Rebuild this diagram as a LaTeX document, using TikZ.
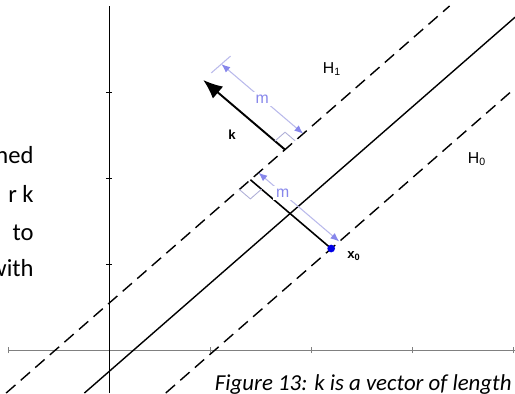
\documentclass[tikz,border=0pt]{standalone}
\usepackage{fontspec}
\setmainfont{Carlito}
\newfontfamily\labelfont{Liberation Sans}
\usetikzlibrary{arrows.meta,calc}

\definecolor{dimline}{RGB}{185,185,235}
\definecolor{dimhead}{RGB}{135,135,235}
\definecolor{anglemark}{RGB}{175,175,215}

\begin{document}
\begin{tikzpicture}[x=2.02cm,y=1.72cm,>=Latex,
  every node/.style={font=\labelfont\fontsize{9}{10}\selectfont},
  plane/.style={line width=0.8pt},
  halfplane/.style={plane,dash pattern=on 7pt off 4pt},
  dimension/.style={dimline,line width=0.6pt,
    {Latex[length=5pt,width=4pt,color=dimhead]}-{Latex[length=5pt,width=4pt,color=dimhead]}},
  rightangle/.style={anglemark,line width=0.5pt},
  bodytext/.style={font=\rmfamily\fontsize{14}{17}\selectfont,anchor=base east,inner sep=0pt},
  smalllabel/.style={font=\labelfont\bfseries\fontsize{7.5}{9}\selectfont}]
  \useasboundingbox (-1.079,-0.5) rectangle (4.020,4.070);

  % axes
  \draw[gray,line width=0.5pt] (-1,0) -- (4.02,0);
  \draw[line width=0.5pt] (0,-0.5) -- (0,4);
  \foreach \x in {-1,1,2,3,4} \draw[gray] (\x,-0.035) -- (\x,0.035);
  \foreach \y in {1,2,3} \draw (-0.03,\y) -- (0.03,\y);

  % planes
  \draw[halfplane] (-1.018,-0.5) -- (3.372,4.0);
  \draw[plane] (-0.243,-0.5) -- (4.02,3.869);
  \draw[halfplane] (0.562,-0.5) -- (4.02,3.044);

  \coordinate (x0) at (2.20,1.18);
  \coordinate (F) at (1.40,1.98);
  \coordinate (B) at (1.743,2.33);
  \coordinate (T) at (0.933,3.14);

  % normal vector k and distance
  \draw[line width=1.1pt,-{Latex[length=11pt,width=9pt]}] (B) -- (T);
  \draw[line width=0.9pt] (F) -- (x0);
  \fill[blue!90!black] (x0) circle (2.2pt);

  % right angles
  \draw[rightangle] ($(B)+(-0.1,0.1)$) -- ($(B)+(0,0.2025)$) -- ($(B)+(0.1,0.1025)$);
  \draw[rightangle] ($(F)+(-0.11,-0.113)$) -- ($(F)+(0,-0.223)$) -- ($(F)+(0.11,-0.11)$);

  % dimensions
  \draw[dimline,line width=0.6pt] ($(T)+(0.08,0.082)$) -- ($(T)+(0.27,0.277)$);
  \draw[dimension] ($(T)+(0.18,0.1845)$) -- node[fill=white,inner sep=1.5pt,text=dimhead] {m} ($(B)+(0.18,0.1845)$);
  \draw[dimension] ($(F)+(0.08,0.082)$) -- node[pos=0.3,fill=white,inner sep=1.5pt,text=dimhead] {m} ($(x0)+(0.08,0.082)$);

  % labels
  \node (k) at (1.218,2.5) [smalllabel] {k};
  \node (x0lab) at (2.426,1.093) [smalllabel] {x\textsubscript{0}};
  \node (H1) at (2.208,3.267) {H\textsubscript{1}};
  \node (H0) at (3.644,2.221) {H\textsubscript{0}};

  % text around the figure
  \node (t1) at (-0.743,2.174) [bodytext] {hed};
  \node (t2) at (-0.743,1.721) [bodytext] {r k};
  \node (t3) at (-0.743,1.279) [bodytext] {to};
  \node (t4) at (-0.743,0.849) [bodytext] {with};
  \node (cap) at (3.99,-0.465) [bodytext,font=\rmfamily\itshape\fontsize{13}{16}\selectfont] {Figure 13: k is a vector of length};
\end{tikzpicture}
\end{document}
